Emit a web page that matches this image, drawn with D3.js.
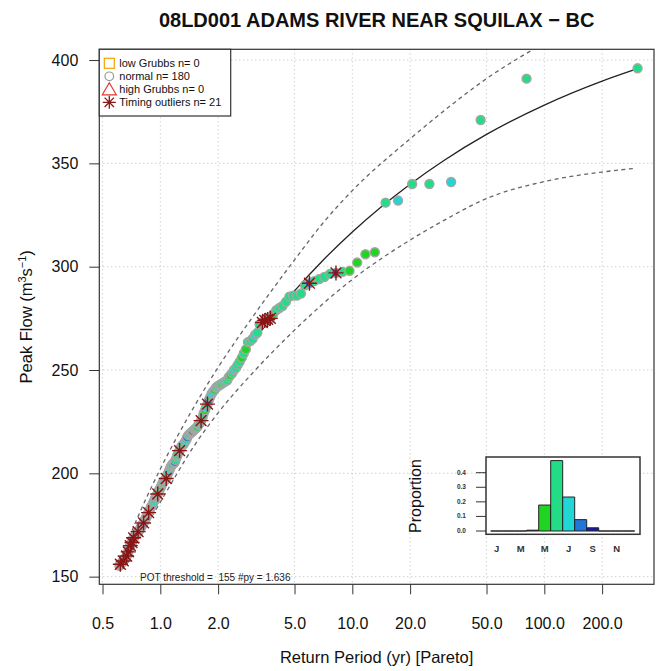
<!DOCTYPE html>
<html><head><meta charset="utf-8">
<script src="https://cdn.jsdelivr.net/npm/d3@7"></script>
<style>body{margin:0;background:#fff}svg{display:block}text{font-family:"Liberation Sans",Arial,sans-serif}</style>
</head><body><svg id="c" width="662" height="671"></svg>
<script>
// ---- data ----
const returnPeriod = [306,80.8,46.6,32.7,25.2,20.5,17.3,14.9,13.1,11.7,
10.6,9.67,8.89,8.22,7.65,7.15,6.72,6.33,5.98,5.67,
5.40,5.14,4.91,4.70,4.51,4.33,4.17,4.02,3.87,3.74,
3.62,3.50,3.40,3.29,3.20,3.11,3.02,2.94,2.86,2.79,
2.72,2.66,2.59,2.53,2.48,2.42,2.37,2.32,2.27,2.23,
2.18,2.14,2.10,2.06,2.02,1.98,1.95,1.92,1.88,1.85,
1.82,1.79,1.76,1.73,1.71,1.68,1.66,1.63,1.61,1.58,
1.56,1.54,1.52,1.50,1.48,1.46,1.44,1.42,1.40,1.38,
1.37,1.35,1.33,1.32,1.30,1.29,1.27,1.26,1.24,1.23,
1.22,1.20,1.19,1.18,1.16,1.15,1.14,1.13,1.12,1.11,
1.095,1.084,1.073,1.063,1.053,1.043,1.033,1.023,1.014,1.004,
0.995,0.987,0.978,0.969,0.961,0.952,0.944,0.936,0.928,0.920,
0.913,0.905,0.898,0.891,0.883,0.876,0.869,0.863,0.856,0.849,
0.843,0.836,0.830,0.824,0.818,0.812,0.806,0.800,0.794,0.788,
0.783,0.777,0.772,0.766,0.761,0.756,0.751,0.746,0.740,0.736,
0.731,0.726,0.721,0.716,0.712,0.707,0.703,0.698,0.694,0.689,
0.685,0.681,0.677,0.672,0.668,0.664,0.660,0.656,0.653,0.649,
0.645,0.641,0.637,0.634,0.630,0.626,0.623,0.619,0.616,0.613];
const peakFlow = [396,391,371,341,340,340,332,331,307,306,
302,298,297.5,297,296.5,295,294,293,292,291,
287,286,286,285.5,283,281,280,279,277,275,
274.5,274,273,272,268,267,265,264,263.5,260,
258,256,254,252.5,251,250,248.5,247.5,246.5,245,
244.5,244,243.5,243,242.5,242,241.5,240.5,239.5,238.5,
237,235.5,233.5,232,230.5,229,227,225.5,224.5,223.5,
222.5,222,221.5,221,220.5,220,219.5,219,218.5,217.5,
216.5,215.5,214.5,214,213.5,213,212,211,210,209,
208,206.5,205.5,205,204.5,204,203.5,203,202,201,
200,199,197.5,197,196.5,196,195.5,195,194,193,
192.5,192,191,190,189.5,189,188.5,187.5,186.5,186,
185,184.5,184,183.5,182.5,181.5,181,180.5,180,179,
178.5,178,177.5,177,176,175.5,175,174.5,174,173.5,
173,172.5,172,171.8,171.3,171,170.6,170.3,170,169.5,
169.2,168.8,168.3,167.5,166.5,166,165.5,165,164.5,164,
163,162,161.5,161,160,159.5,159,158.8,158.5,158.2,
158,157.6,157.3,157,156.8,156.5,156.2,156,155.6,155.3];
// month of peak (a=Apr g=May m=Jun c=Jul b=Aug d=Sep)
const peakMonth = ("mmmcmmcmgg"+"ggmbmmmmbm"+"mmmmmmmmgc"+"cbmmmcmmmg"+"mgmmmcmgmm"+
  "cmgmcmmgcc"+"mbmcgmcmmc"+"gmcmdmcgmb"+"mcmgcmmcgm"+"cmbmgcmmca"+
  "mgcmmbcmgm"+"cmgmcdmmcg"+"mcmbmgcmmc"+"gmcmbmgcmd"+"mcgmmcbmgc"+
  "mmcgbmcmdg"+"cmgmcmbgmc"+"mgcmmdgmcg").split("");
const timingOutlierRanks = [14,19,30,31,32,33,63,68,88,103,114,127,135,144,152,155,158,162,165,172,178];

const curveT   = [0.6125,0.7,0.8,1,1.5,2,3,5,7,10,20,30,50,100,200,290];
const fitQ     = [155,166.4,177.1,194.1,222.3,240.3,263.2,288.3,302.9,316.8,339.9,351.4,364.0,378.2,389.8,395.1];
const upperQ   = [155,170.4,183.1,202.1,232.3,251.3,275.2,303.3,320.9,336.8,361.9,375.4,391.0,408.2,422.8,430.0];
const lowerQ   = [155,162.4,171.1,186.1,213.3,229.3,248.2,269.3,281.9,293.8,312.9,322.4,333.0,341.2,345.8,347.5];

const xTicks = [0.5,1,2,5,10,20,50,100,200];
const xTickLabels = ["0.5","1.0","2.0","5.0","10.0","20.0","50.0","100.0","200.0"];
const yTicks = [150,200,250,300,350,400];

const months = ["J","F","M","A","M","J","J","A","S","O","N","D"];
const monthProportion = [0,0,0,0.0056,0.178,0.483,0.233,0.078,0.022,0,0,0];
const propTicks = [0,0.1,0.2,0.3,0.4];

const legendLabels = ["low Grubbs n= 0","normal n= 180","high Grubbs n= 0","Timing outliers n= 21"];

// ---- drawing ----
const colorOf = {a:"#333333", g:"#22d422", m:"#22dd86", c:"#22d6d6", b:"#2176d9", d:"#1818b0"};
const barColors = [null,null,null,"#333333","#22d422","#22dd86","#22d6d6","#2176d9","#1818b0",null,null,null];

const svg = d3.select("#c");
svg.append("rect").attr("width",662).attr("height",671).attr("fill","#fff");
const L=99.3,R=654,T=49.3,B=584.3;
const x = d3.scaleLog().domain([0.481,372.6]).range([L,R]);
const y = d3.scaleLinear().domain([146.3,405.2]).range([B,T]);

svg.append("clipPath").attr("id","clip").append("rect").attr("x",L).attr("y",T).attr("width",R-L).attr("height",B-T);

// grid
const grid = svg.append("g").attr("stroke","#bdbdbd").attr("stroke-dasharray","1,3").attr("stroke-width",1);
xTicks.forEach(t=>grid.append("line").attr("x1",x(t)).attr("x2",x(t)).attr("y1",T).attr("y2",B));
yTicks.forEach(v=>grid.append("line").attr("x1",L).attr("x2",R).attr("y1",y(v)).attr("y2",y(v)));

const plot = svg.append("g").attr("clip-path","url(#clip)");
const mkLine = arr => d3.line().x((d,i)=>x(curveT[i])).y((d,i)=>y(arr[i])).curve(d3.curveMonotoneX)(arr);
plot.append("path").attr("d",mkLine(upperQ)).attr("fill","none").attr("stroke","#666").attr("stroke-width",1.3).attr("stroke-dasharray","4,3.5");
plot.append("path").attr("d",mkLine(lowerQ)).attr("fill","none").attr("stroke","#666").attr("stroke-width",1.3).attr("stroke-dasharray","4,3.5");
plot.append("path").attr("d",mkLine(fitQ)).attr("fill","none").attr("stroke","#222").attr("stroke-width",1.3);

const pts = returnPeriod.map((t,i)=>({t, q:peakFlow[i], m:peakMonth[i], rank:i+1}));
plot.append("g").selectAll("circle").data(pts.slice().reverse()).join("circle")
  .attr("cx",d=>x(d.t)).attr("cy",d=>y(d.q)).attr("r",4.5)
  .attr("fill",d=>colorOf[d.m]).attr("stroke","#a6a6a6").attr("stroke-width",1.4);

function asterisk(g, cx, cy, s, col, w){
  const d = s*0.72;
  const p = `M${cx-s},${cy}H${cx+s}M${cx},${cy-s}V${cy+s}M${cx-d},${cy-d}L${cx+d},${cy+d}M${cx-d},${cy+d}L${cx+d},${cy-d}`;
  g.append("path").attr("d",p).attr("stroke",col).attr("stroke-width",w).attr("fill","none");
}
const ast = plot.append("g");
timingOutlierRanks.forEach(r=>{ const d=pts[r-1]; asterisk(ast, x(d.t), y(d.q), 7.5, "#8b1515", 1.4); });

// box
svg.append("rect").attr("x",L).attr("y",T).attr("width",R-L).attr("height",B-T).attr("fill","none").attr("stroke","#333").attr("stroke-width",1.2);

// axes
const xa = svg.append("g").attr("transform",`translate(0,${B})`)
  .call(d3.axisBottom(x).tickValues(xTicks).tickFormat((d,i)=>xTickLabels[i]).tickSize(10));
xa.select(".domain").remove();
xa.selectAll("line").attr("stroke","#333");
xa.selectAll("text").attr("y",45).attr("dy",0).attr("font-size",16).attr("fill","#111").attr("font-family","Liberation Sans, Arial, sans-serif");
const ya = svg.append("g").attr("transform",`translate(${L},0)`)
  .call(d3.axisLeft(y).tickValues(yTicks).tickSize(10).tickPadding(11));
ya.select(".domain").remove();
ya.selectAll("line").attr("stroke","#333");
ya.selectAll("text").attr("font-size",16).attr("fill","#111").attr("font-family","Liberation Sans, Arial, sans-serif");

// titles
svg.append("text").attr("x",(L+R)/2).attr("y",27).attr("text-anchor","middle").attr("font-size",20).attr("font-weight","bold").attr("fill","#111")
  .text("08LD001 ADAMS RIVER NEAR SQUILAX \u2212 BC");
svg.append("text").attr("x",(L+R)/2).attr("y",663).attr("text-anchor","middle").attr("font-size",16.5).attr("fill","#111")
  .text("Return Period (yr) [Pareto]");
const yl = svg.append("text").attr("transform",`translate(32,${(T+B)/2}) rotate(-90)`).attr("text-anchor","middle").attr("font-size",16.5).attr("fill","#111");
yl.append("tspan").text("Peak Flow (m");
yl.append("tspan").attr("font-size",11).attr("dy",-6).text("3");
yl.append("tspan").attr("dy",6).text("s");
yl.append("tspan").attr("font-size",11).attr("dy",-6).text("\u22121");
yl.append("tspan").attr("dy",6).text(")");

// POT text
svg.append("text").attr("x",140).attr("y",581).attr("font-size",10).attr("fill","#222").attr("xml:space","preserve").style("white-space","pre").text("POT threshold =  155 #py = 1.636");

// legend
const lg = svg.append("g");
lg.append("rect").attr("x",L).attr("y",T).attr("width",131.4).attr("height",66.7).attr("fill","#fff").attr("stroke","#333").attr("stroke-width",1.2);
const rowsY = [63.3,76.3,89.3,102.3];
legendLabels.forEach((s,i)=>lg.append("text").attr("x",119.3).attr("y",rowsY[i]+4).attr("font-size",11).attr("fill","#111").text(s));
const sx = 109.3;
lg.append("rect").attr("x",sx-5).attr("y",rowsY[0]-5).attr("width",10).attr("height",10).attr("fill","none").attr("stroke","#f5a000").attr("stroke-width",1.2);
lg.append("circle").attr("cx",sx).attr("cy",rowsY[1]).attr("r",4.3).attr("fill","none").attr("stroke","#999").attr("stroke-width",1.2);
lg.append("path").attr("d",`M${sx},${rowsY[2]-6.5}L${sx+7},${rowsY[2]+5.5}L${sx-7},${rowsY[2]+5.5}Z`).attr("fill","none").attr("stroke","#e8332e").attr("stroke-width",1.2);
asterisk(lg, sx, rowsY[3], 6.5, "#8b1515", 1.3);

// inset histogram
const iL=486,iR=640,iT=457,iB=534.3;
const xi = d3.scaleLinear().domain([0,12]).range([490.7,634.7]);
const yi = d3.scaleLinear().domain([0,0.4]).range([531,472.7]);
const ins = svg.append("g");
ins.append("rect").attr("x",iL).attr("y",iT).attr("width",iR-iL).attr("height",iB-iT).attr("fill","#fff");
monthProportion.forEach((p,i)=>{
  const x0=xi(i), x1=xi(i+1), y0=yi(0), y1=yi(p);
  ins.append("path").attr("d",`M${x0},${y0}V${y1}H${x1}V${y0}Z`)
    .attr("fill",barColors[i]||"none").attr("stroke","#222").attr("stroke-width",1);
});
ins.append("rect").attr("x",iL).attr("y",iT).attr("width",iR-iL).attr("height",iB-iT).attr("fill","none").attr("stroke","#333").attr("stroke-width",1.5);
propTicks.forEach(v=>{
  ins.append("line").attr("x1",476).attr("x2",iL).attr("y1",yi(v)).attr("y2",yi(v)).attr("stroke","#333");
  ins.append("text").attr("x",466).attr("y",yi(v)+2).attr("text-anchor","end").attr("font-size",6.5).attr("font-weight","bold").attr("fill","#333").text(v.toFixed(1));
});
months.forEach((m,i)=>{ if(i%2===0) ins.append("text").attr("x",xi(i+0.5)).attr("y",552).attr("text-anchor","middle").attr("font-size",9.5).attr("font-weight","bold").attr("fill","#333").text(m); });
svg.append("text").attr("transform",`translate(421,496) rotate(-90)`).attr("text-anchor","middle").attr("font-size",16).attr("fill","#111").text("Proportion");
</script></body></html>
